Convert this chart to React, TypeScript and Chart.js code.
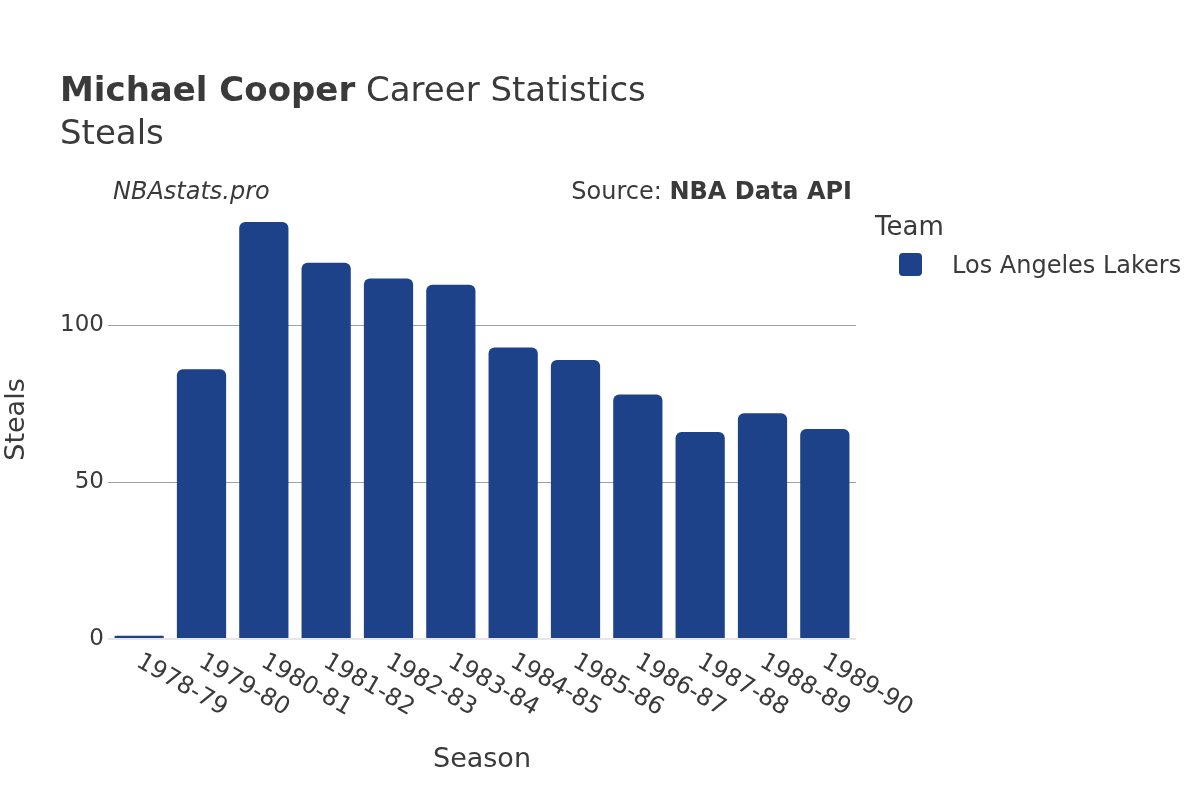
import React, { useEffect, useRef } from "react";
import { Chart, registerables } from "chart.js";

Chart.register(...registerables);

const seasons = [
  "1978-79", "1979-80", "1980-81", "1981-82", "1982-83", "1983-84",
  "1984-85", "1985-86", "1986-87", "1987-88", "1988-89", "1989-90",
];
const steals = [1, 86, 133, 120, 115, 113, 93, 89, 78, 66, 72, 67];
const yTicks = [0, 50, 100];
const yMax = 140;
const teamName = "Los Angeles Lakers";
const barColor = "#1d428a";
const playerName = "Michael Cooper";
const titleRest = " Career Statistics";
const subtitle = "Steals";
const xTitle = "Season";
const yTitle = "Steals";
const legendTitle = "Team";
const brand = "NBAstats.pro";
const sourceLabel = "Source: ";
const sourceName = "NBA Data API";

const FONT = "'DejaVu Sans', sans-serif";
const TEXT = "#3a3a3a";

const textPlugin = {
  id: "texts",
  afterDraw(chart: any) {
    const ctx = chart.ctx as CanvasRenderingContext2D;
    const area = chart.chartArea;
    ctx.save();
    ctx.fillStyle = TEXT;
    ctx.textBaseline = "alphabetic";
    ctx.textAlign = "left";

    // title
    ctx.font = `bold 34px ${FONT}`;
    ctx.fillText(playerName, 60, 101);
    const w = ctx.measureText(playerName).width;
    ctx.font = `34px ${FONT}`;
    ctx.fillText(titleRest, 60 + w, 101);
    ctx.fillText(subtitle, 60, 144);

    // brand & source
    ctx.font = `italic 24px ${FONT}`;
    ctx.fillText(brand, 113, 199);
    ctx.textAlign = "right";
    ctx.font = `bold 24px ${FONT}`;
    ctx.fillText(sourceName, 852, 199);
    const sw = ctx.measureText(sourceName).width;
    ctx.font = `24px ${FONT}`;
    ctx.fillText(sourceLabel, 852 - sw, 199);

    // legend
    ctx.textAlign = "left";
    ctx.font = `26px ${FONT}`;
    ctx.fillText(legendTitle, 875, 235);
    ctx.fillStyle = chart.data.datasets[0].backgroundColor;
    ctx.beginPath();
    (ctx as any).roundRect(899, 253, 23, 23, 4);
    ctx.fill();
    ctx.fillStyle = TEXT;
    ctx.font = `24px ${FONT}`;
    ctx.textBaseline = "middle";
    ctx.fillText(chart.data.datasets[0].label, 952, 267);

    // x tick labels
    const xs = chart.scales.x;
    ctx.font = `24px ${FONT}`;
    ctx.textBaseline = "middle";
    chart.data.labels.forEach((lab: string, i: number) => {
      const x = xs.getPixelForTick(i);
      ctx.save();
      ctx.translate(x - 1, area.bottom + 21);
      ctx.rotate((30 * Math.PI) / 180);
      ctx.fillText(lab, 0, 0);
      ctx.restore();
    });

    // axis titles
    ctx.textAlign = "center";
    ctx.textBaseline = "middle";
    ctx.font = `27px ${FONT}`;
    ctx.fillText(xTitle, (area.left + area.right) / 2, 760);
    ctx.save();
    ctx.translate(17, (area.top + area.bottom) / 2);
    ctx.rotate(-Math.PI / 2);
    ctx.fillText(yTitle, 0, 0);
    ctx.restore();

    ctx.restore();
  },
};

export default function App() {
  const ref = useRef<HTMLCanvasElement | null>(null);
  useEffect(() => {
    if (!ref.current) return;
    const chart = new Chart(ref.current, {
      type: "bar",
      data: {
        labels: seasons,
        datasets: [
          {
            label: teamName,
            data: steals,
            backgroundColor: barColor,
            borderRadius: { topLeft: 6, topRight: 6, bottomLeft: 0, bottomRight: 0 },
            borderSkipped: "bottom",
            barPercentage: 0.79,
            categoryPercentage: 1,
          },
        ],
      },
      options: {
        responsive: false,
        animation: false,
        layout: { padding: { top: 200, right: 344, left: 0, bottom: 0 } },
        plugins: {
          legend: { display: false },
          tooltip: { enabled: false },
          title: { display: false },
        },
        scales: {
          x: {
            grid: { display: false },
            border: { display: false },
            ticks: { display: false },
            afterFit: (s: any) => {
              s.height = 161;
            },
          },
          y: {
            min: 0,
            max: yMax,
            afterBuildTicks: (s: any) => {
              s.ticks = yTicks.map((v) => ({ value: v }));
            },
            grid: {
              color: (c: any) => (c.tick && c.tick.value === 0 ? "#e6e6e6" : "#a0a0a0"),
              lineWidth: (c: any) => (c.tick && c.tick.value === 0 ? 2 : 1),
              drawTicks: false,
            },
            border: { display: false },
            ticks: { font: { family: FONT, size: 23 }, color: TEXT, padding: 4 },
            afterFit: (s: any) => {
              s.width = 108;
            },
          },
        },
      },
      plugins: [textPlugin],
    });
    return () => chart.destroy();
  }, []);
  return (
    <div style={{ position: "absolute", left: 0, top: 0, width: 1200, height: 800, background: "#fff" }}>
      <canvas ref={ref} width={1200} height={800} style={{ display: "block" }} />
    </div>
  );
}
